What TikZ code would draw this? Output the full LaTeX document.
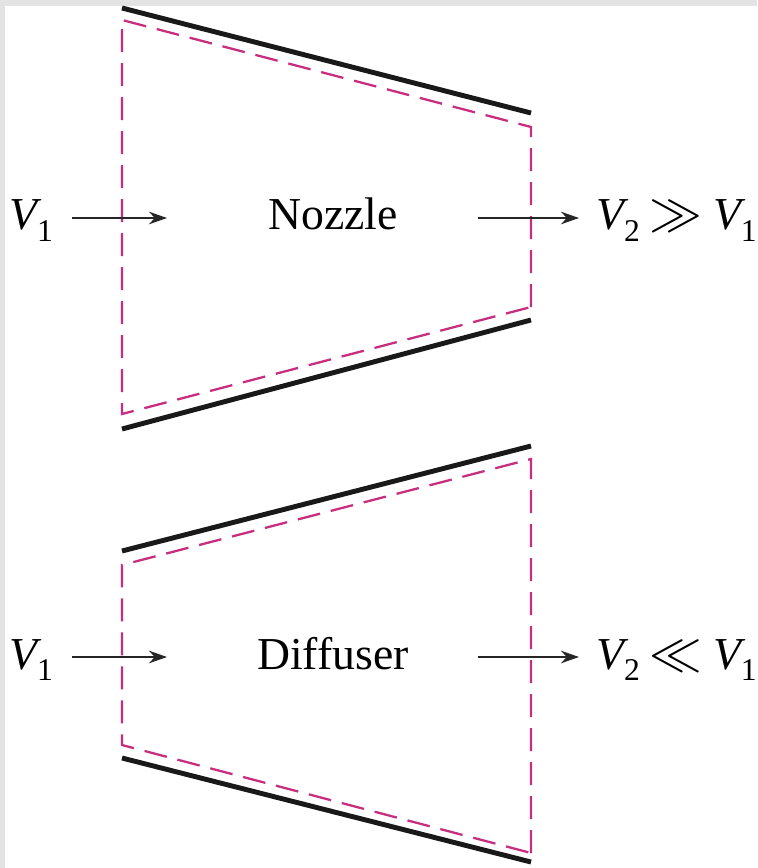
\documentclass[tikz,border=0pt]{standalone}
\usepackage{mathptmx}
\usepackage{fontspec}
\setmainfont{Liberation Serif}
\usetikzlibrary{arrows.meta}
\definecolor{cvpink}{RGB}{200,46,126}
\newcommand{\vel}[1]{\textit{V}\kern-0.1em\raisebox{-6.5pt}{\fontsize{18}{20}\selectfont #1}}
\newcommand{\bigrel}[1]{{\fontsize{30}{30}\selectfont$#1$}}
\tikzstyle{wall} = [line width=2.8pt, black!90]
\tikzstyle{cv} = [line width=1.3pt, cvpink, dash pattern=on 0.46cm off 0.22cm]
\tikzstyle{flow} = [line width=1.4pt, black!85, -{Stealth[length=0.36cm,width=0.25cm]}]
\tikzstyle{lbl} = [font=\fontsize{26}{30}\selectfont, inner sep=0pt]
\begin{document}
\begin{tikzpicture}[x=0.02cm, y=-0.02cm]
        % Rahmen
        \fill[gray!22] (0,0) rectangle (757,868);
        \fill[white] (5,6) rectangle (757,868);
        \useasboundingbox (0,0) rectangle (757,868);

        % Nozzle: Wand und Kontrollvolumen
        \draw[wall] (122,8) -- (531,113);
        \draw[wall] (122,429) -- (531,320);
        \draw[cv] (531,307) -- (531,127) -- (122,20) -- (122,414) -- cycle;

        % Nozzle: Texte und Pfeile
        \node[lbl, anchor=base] (noz) at (333,230) {Nozzle};
        \node[lbl, anchor=base west] (vin1) at (9,230) {\vel{1}};
        \node[lbl, anchor=base west] (vout1) at (596,230)
            {\vel{2}\hspace{0.2em}\bigrel{\gg}\hspace{0.25em}\vel{1}};
        \coordinate (in1s) at (72,218);
        \coordinate (in1e) at (167,218);
        \coordinate (out1s) at (478,218);
        \coordinate (out1e) at (579,218);
        \draw[flow] (in1s) -- (in1e);
        \draw[flow] (out1s) -- (out1e);

        % Diffuser: Wand und Kontrollvolumen
        \draw[wall] (122,551) -- (531,446);
        \draw[wall] (122,758) -- (531,862);
        \draw[cv] (531,853) -- (531,459) -- (122,565) -- (122,745) -- cycle;

        % Diffuser: Texte und Pfeile
        \node[lbl, anchor=base] (dif) at (333,669) {Diffuser};
        \node[lbl, anchor=base west] (vin2) at (9,669) {\vel{1}};
        \node[lbl, anchor=base west] (vout2) at (596,669)
            {\vel{2}\hspace{0.2em}\bigrel{\ll}\hspace{0.25em}\vel{1}};
        \coordinate (in2s) at (72,657);
        \coordinate (in2e) at (167,657);
        \coordinate (out2s) at (478,657);
        \coordinate (out2e) at (579,657);
        \draw[flow] (in2s) -- (in2e);
        \draw[flow] (out2s) -- (out2e);
\end{tikzpicture}
\end{document}
